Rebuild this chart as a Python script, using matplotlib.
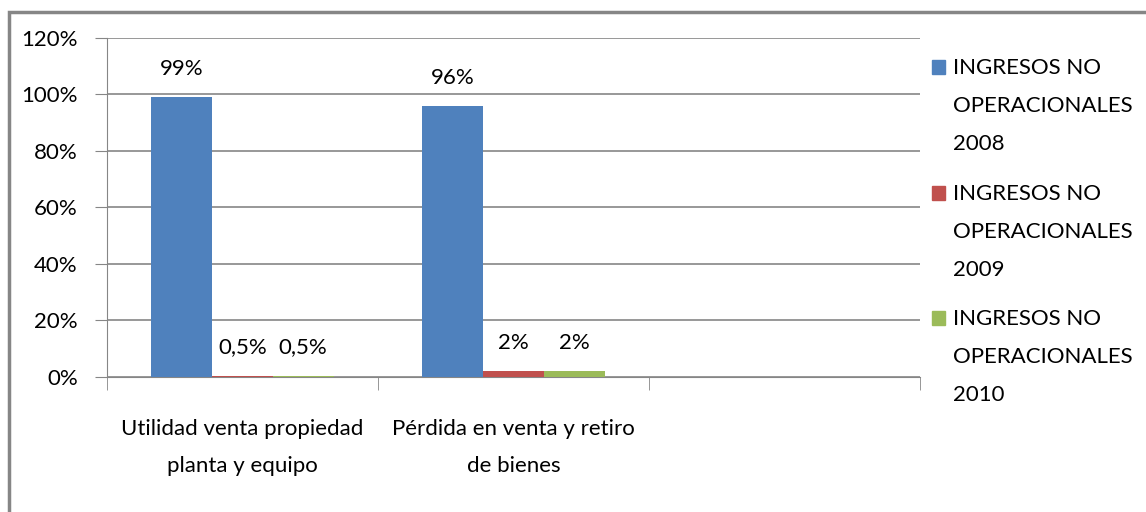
import matplotlib.pyplot as plt
from matplotlib.patches import Rectangle

plt.rcParams['font.family'] = ['Lato', 'DejaVu Sans']

categories = ['Utilidad venta propiedad\nplanta y equipo', 'Pérdida en venta y retiro\nde bienes', '']
series = ['INGRESOS NO\nOPERACIONALES\n2008', 'INGRESOS NO\nOPERACIONALES\n2009', 'INGRESOS NO\nOPERACIONALES\n2010']
values = [
    [0.99, 0.96, None],
    [0.005, 0.02, None],
    [0.005, 0.02, None],
]
labels = [
    ['99%', '96%', None],
    ['0,5%', '2%', None],
    ['0,5%', '2%', None],
]
colors = ['#4F81BD', '#C0504D', '#9BBB59']
yticks = [0, 0.2, 0.4, 0.6, 0.8, 1.0, 1.2]
ytick_labels = ['0%', '20%', '40%', '60%', '80%', '100%', '120%']

fs = 16
fig = plt.figure(figsize=(11.46, 5.12), dpi=100)
ax = fig.add_axes([107 / 1146, 1 - 377 / 512, (920 - 107) / 1146, (377 - 37.7) / 512])

w = 0.224
for i, (vals, labs, col) in enumerate(zip(values, labels, colors)):
    for j, (v, lab) in enumerate(zip(vals, labs)):
        if v is None:
            continue
        x = j + (i - 1) * w
        ax.bar(x, v, width=w, color=col, zorder=3)
        ax.annotate(lab, (x, v), xytext=(0, 13), textcoords='offset points',
                    ha='center', va='bottom', fontsize=fs)

ax.set_xlim(-0.5, 2.5)
ax.set_ylim(0, 1.2)
ax.set_yticks(yticks)
ax.set_yticklabels(ytick_labels, fontsize=fs)
ax.set_xticks([0, 1, 2])
ax.set_xticklabels(categories, fontsize=fs, linespacing=2.1)
ax.set_xticks([-0.5, 0.5, 1.5, 2.5], minor=True)
ax.tick_params(axis='x', which='major', length=0, pad=30)
ax.tick_params(axis='x', which='minor', length=9, color='#868686')
ax.tick_params(axis='y', length=9, color='#868686', pad=12)
ax.grid(axis='y', color='#868686', linewidth=1.2, zorder=0)
for s in ['top', 'right']:
    ax.spines[s].set_visible(False)
for s in ['left', 'bottom']:
    ax.spines[s].set_color('#868686')

# legend
ys = [67, 193, 318]
for name, col, yy in zip(series, colors, ys):
    fig.add_artist(Rectangle((932 / 1146, 1 - (yy + 7) / 512), 13 / 1146, 14 / 512,
                             color=col, transform=fig.transFigure))
    fig.text(953 / 1146, 1 - (yy - 9) / 512, name, fontsize=fs, va='top', ha='left',
             linespacing=2.12)

# outer frame (only left and top edges visible)
fig.add_artist(Rectangle((9 / 1146, -0.1), 1.2, 1 - 12 / 512 + 0.1, fill=False,
                         edgecolor='#868686', linewidth=2.5, transform=fig.transFigure))

fig.savefig('out.png', dpi=100)
